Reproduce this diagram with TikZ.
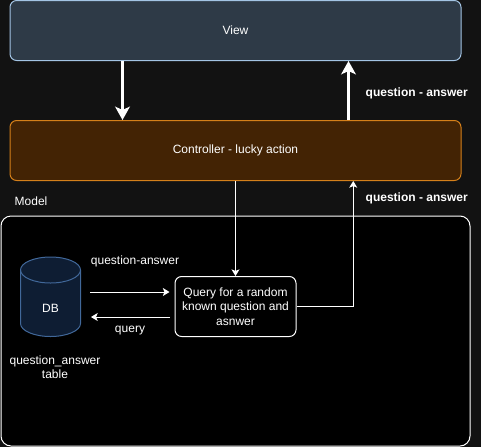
\documentclass[tikz,border=0pt]{standalone}
\usepackage{fontspec}
\setmainfont{Liberation Sans}
\usetikzlibrary{arrows.meta,calc}
\definecolor{bgdark}{HTML}{121212}
\definecolor{viewfill}{HTML}{2E3A47}
\definecolor{viewline}{HTML}{A3C4E4}
\definecolor{ctrlfill}{HTML}{432304}
\definecolor{ctrlline}{HTML}{D5801A}
\definecolor{dbfill}{HTML}{0E1D33}
\definecolor{dbline}{HTML}{41689A}

\begin{document}
\begin{tikzpicture}[x=0.75pt, y=-0.75pt, font=\fontsize{9}{10.8}\selectfont, text=white,
    layer/.style = {draw, line width=0.75pt, rounded corners=5pt, minimum width=338.25pt, minimum height=45pt},
    bigflow/.style = {white, line width=2.25pt, -{Stealth[length=10pt, width=11pt, inset=2.5pt]}},
    flow/.style = {white, line width=0.75pt, -{Stealth[length=5pt, width=6pt, inset=1.2pt]}},
    tag/.style = {font=\fontsize{9}{10.8}\selectfont\bfseries, anchor=west},
    lid/.style = {x radius=30, y radius=13}]

    % background
    \fill[bgdark] (0,0) rectangle (481,447);
    \useasboundingbox (0,0) rectangle (481,447);

    % layers
    \node[layer, fill=viewfill, draw=viewline] (view) at (235.5,30.5) {View};
    \node[layer, fill=ctrlfill, draw=ctrlline] (ctrl) at (235.5,150.5) {Controller - lucky action};
    \node[anchor=west] (modeltitle) at (10,201) {Model};
    \node[draw=white, fill=black, line width=0.75pt, rounded corners=7.5pt, minimum width=351.75pt, minimum height=172.5pt] (model) at (235.5,331) {};

    % view <-> controller
    \draw[bigflow] ($(view.south west)!0.25!(view.south east)$) -- ($(ctrl.north west)!0.25!(ctrl.north east)$);
    \draw[bigflow] ($(ctrl.north west)!0.75!(ctrl.north east)$) -- ($(view.south west)!0.75!(view.south east)$);
    \node[tag] (qa1) at (361,93) {question - answer};

    % model parts
    \node[draw=white, fill=black, line width=0.75pt, rounded corners=5pt, minimum width=90.75pt, minimum height=45pt, align=center, inner sep=1pt] (query) at (235.5,306.5) {Query for a random\\known question and\\asnwer};
    \draw[dbline, fill=dbfill, line width=0.75pt] (20.5,270) -- (20.5,323.5) arc[start angle=180, end angle=0, lid] -- (80.5,270) arc[start angle=0, end angle=-180, lid] -- cycle;
    \draw[dbline, line width=0.75pt] (20.5,270) arc[start angle=180, end angle=0, lid];
    \node (db) at (50.5,308) {DB};
    \node[align=center] (dbname) at (55,367) {question\_answer\\table};

    % controller <-> query
    \coordinate (ctrlin) at ($(ctrl.south west)!0.7605!(ctrl.south east)$);
    \draw[flow] (ctrl.south) -- (query.north);
    \draw[flow] (query.east) -| (ctrlin);
    \node[tag] (qa2) at (361,198) {question - answer};

    % db <-> query
    \coordinate (dbout) at (90,292);
    \coordinate (dbin) at (91,317);
    \draw[flow, shorten >=3.75pt] (dbout) -- (dbout -| query.west);
    \draw[flow, shorten <=3.75pt] (dbin -| query.west) -- (dbin);
    \node (fetchlabel) at (135,261) {question-answer};
    \node (querylabel) at (130,331) {query};

\end{tikzpicture}
\end{document}
